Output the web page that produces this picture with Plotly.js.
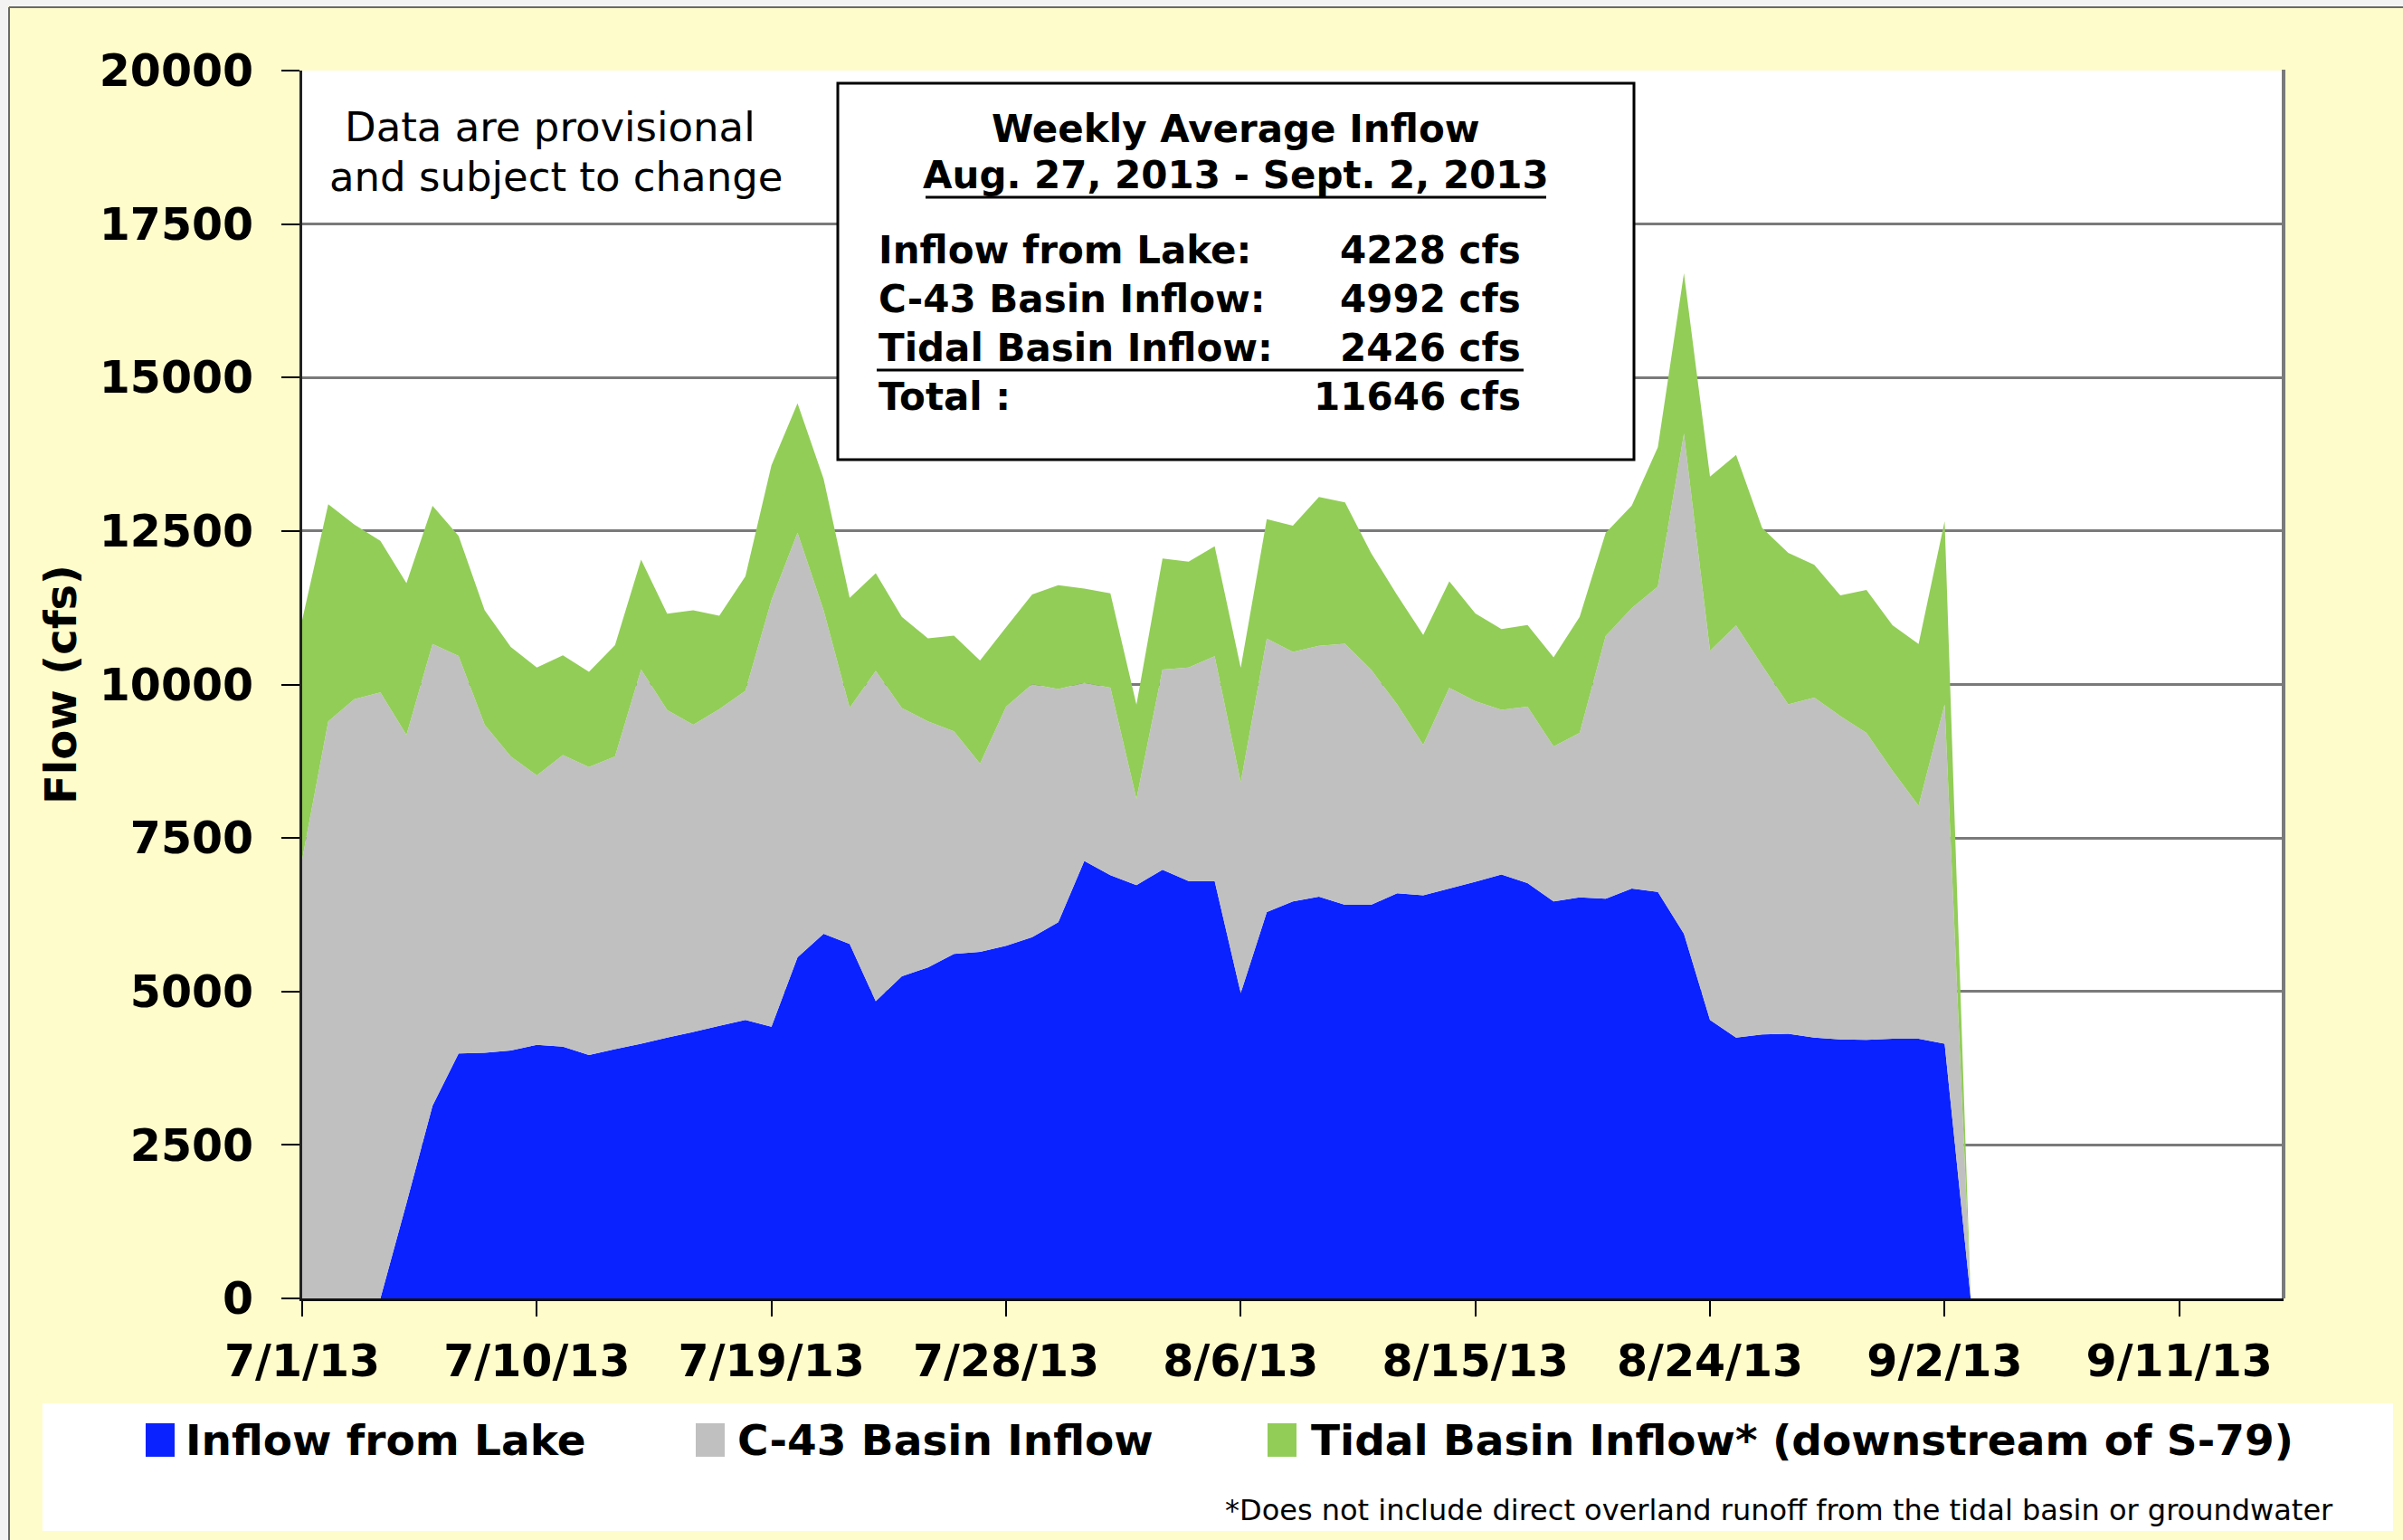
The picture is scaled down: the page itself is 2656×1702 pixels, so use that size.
<!DOCTYPE html>
<html>
<head>
<meta charset="utf-8">
<script src="https://cdn.plot.ly/plotly-3.0.1.min.js"></script>
<style>
html,body{margin:0;padding:0;background:#ffffff;}
#chart{width:2656px;height:1702px;}
</style>
</head>
<body>
<div id="chart"></div>
<script>
// ---------------- DATA ----------------
const dates = [
  '2013-07-01','2013-07-02','2013-07-03','2013-07-04','2013-07-05','2013-07-06','2013-07-07','2013-07-08',
  '2013-07-09','2013-07-10','2013-07-11','2013-07-12','2013-07-13','2013-07-14','2013-07-15','2013-07-16',
  '2013-07-17','2013-07-18','2013-07-19','2013-07-20','2013-07-21','2013-07-22','2013-07-23','2013-07-24',
  '2013-07-25','2013-07-26','2013-07-27','2013-07-28','2013-07-29','2013-07-30','2013-07-31',
  '2013-08-01','2013-08-02','2013-08-03','2013-08-04','2013-08-05','2013-08-06','2013-08-07','2013-08-08',
  '2013-08-09','2013-08-10','2013-08-11','2013-08-12','2013-08-13','2013-08-14','2013-08-15','2013-08-16',
  '2013-08-17','2013-08-18','2013-08-19','2013-08-20','2013-08-21','2013-08-22','2013-08-23','2013-08-24',
  '2013-08-25','2013-08-26','2013-08-27','2013-08-28','2013-08-29','2013-08-30','2013-08-31',
  '2013-09-01','2013-09-02','2013-09-03'
];

const inflowFromLake = [
  0, 0, 0, 0, 1550, 3140, 3990, 4000, 4040, 4130, 4100, 3965, 4060, 4150, 4250, 4340,
  4440, 4535, 4425, 5556, 5940, 5775, 4842, 5248, 5391, 5611, 5644, 5743, 5885, 6127, 7126,
  6895, 6731, 6983, 6797, 6797, 4974, 6292, 6467, 6544, 6412, 6412, 6599, 6566, 6676, 6786,
  6906, 6764, 6467, 6533, 6511, 6676, 6621, 5940, 4535, 4250, 4300, 4310, 4250, 4220, 4210,
  4230, 4230, 4150, 0
];

const c43BasinInflow = [
  7150, 9400, 9760, 9870, 7630, 7520, 6475, 5345, 4790, 4390, 4750, 4690, 4770, 6095, 5335, 5005,
  5160, 5360, 6950, 6915, 5270, 3845, 5380, 4370, 4010, 3625, 3065, 3895, 4120, 3800, 2900,
  3055, 1405, 3260, 3480, 3665, 3435, 4455, 4065, 4085, 4250, 3830, 3075, 2450, 3270, 2940,
  2680, 2875, 2525, 2680, 4280, 4570, 4975, 8145, 6015, 6710, 6010, 5365, 5535, 5265, 5000,
  4365, 3795, 5525, 0
];

const tidalBasinInflow = [
  3900, 3535, 2845, 2470, 2470, 2250, 1955, 1865, 1780, 1755, 1625, 1550, 1810, 1790, 1570, 1865,
  1520, 1865, 2195, 2110, 2140, 1790, 1590, 1485, 1350, 1560, 1680, 1295, 1460, 1690, 1535,
  1535, 1535, 1810, 1725, 1790, 1865, 1945, 2055, 2425, 2305, 1900, 1780, 1790, 1735, 1430,
  1315, 1330, 1450, 1890, 1680, 1670, 2270, 2615, 2835, 2780, 2240, 2470, 2165, 1965, 2330,
  2370, 2635, 2985, 0
];

const seriesNames = ['Inflow from Lake', 'C-43 Basin Inflow', 'Tidal Basin Inflow* (downstream of S-79)'];
const seriesColors = ['#0a22ff', '#c0c0c0', '#92cd58'];

const xTickVals = ['2013-07-01','2013-07-10','2013-07-19','2013-07-28','2013-08-06','2013-08-15','2013-08-24','2013-09-02','2013-09-11'];
const xTickText = ['7/1/13','7/10/13','7/19/13','7/28/13','8/6/13','8/15/13','8/24/13','9/2/13','9/11/13'];
const xRange = ['2013-07-01', '2013-09-15'];
const yRange = [0, 20000];
const yStep = 2500;

const boxTitle = 'Weekly Average Inflow';
const boxPeriod = 'Aug. 27, 2013 - Sept. 2, 2013';
const summaryLabels = ['Inflow from Lake:', 'C-43 Basin Inflow:', 'Tidal Basin Inflow:', 'Total :'];
const summaryValues = ['4228 cfs', '4992 cfs', '2426 cfs', '11646 cfs'];
const noteText = ['Data are provisional', 'and subject to change'];
const footnote = '*Does not include direct overland runoff from the tidal basin or groundwater';
const yTitle = 'Flow (cfs)';

// ---------------- LAYOUT HELPERS (pixel -> paper) ----------------
const W = 2656, H = 1702;
const L = 334, R = 2524, T = 78, B = 1435;
const px = x => (x - L) / (R - L);
const py = y => (B - y) / (B - T);
const FONT = 'DejaVu Sans, Liberation Sans, Arial, sans-serif';

// ---------------- TRACES ----------------
const seriesValues = [inflowFromLake, c43BasinInflow, tidalBasinInflow];
const traces = seriesValues.map((vals, i) => ({
  type: 'scatter',
  x: dates,
  y: vals,
  name: seriesNames[i],
  stackgroup: 'flow',
  mode: 'none',
  fillcolor: seriesColors[i],
  line: {width: 0, color: seriesColors[i]},
  hoverinfo: 'skip'
}));

// ---------------- SHAPES ----------------
const shapes = [];
function rectPx(x0, y0, x1, y1, fill, lineColor, lineWidth, layer) {
  shapes.push({type: 'rect', xref: 'paper', yref: 'paper',
    x0: px(x0), x1: px(x1), y0: py(y0), y1: py(y1),
    fillcolor: fill, line: {color: lineColor || 'rgba(0,0,0,0)', width: lineWidth || 0},
    layer: layer || 'above'});
}
function linePx(x0, y0, x1, y1, color, width, layer) {
  shapes.push({type: 'line', xref: 'paper', yref: 'paper',
    x0: px(x0), x1: px(x1), y0: py(y0), y1: py(y1),
    line: {color: color, width: width}, layer: layer || 'above'});
}
// outer frame of the yellow panel
rectPx(0, 0, W, 7, '#f3f3f3', null, 0, 'below');
rectPx(0, 0, 9, H, '#f3f3f3', null, 0, 'below');
linePx(10, 8, W, 8, '#6a6a6a', 2, 'below');
linePx(10, 8, 10, H, '#6a6a6a', 2, 'below');
// right border of plot area
linePx(R, T - 1, R, B, '#7a7a7a', 4, 'above');
// summary box
rectPx(926, 92, 1806, 508, '#ffffff', '#000000', 3, 'above');
linePx(1023, 218, 1709, 218, '#000000', 3, 'above');
linePx(969, 409, 1684, 409, '#000000', 3, 'above');
// legend panel
rectPx(47, 1551, 2645, 1692, '#ffffff', null, 0, 'above');
const legendSquareX = [161, 769, 1401];
const legendTextX = [203, 813, 1447];
seriesColors.forEach((c, i) => {
  rectPx(legendSquareX[i], 1573, legendSquareX[i] + 32, 1610, c, null, 0, 'above');
});

// ---------------- ANNOTATIONS ----------------
const annotations = [];
function textPx(x, y, text, size, opts) {
  opts = opts || {};
  annotations.push({xref: 'paper', yref: 'paper', x: px(x), y: py(y), text: text,
    showarrow: false, xanchor: opts.xanchor || 'center', yanchor: 'middle',
    align: opts.align || 'center',
    font: {family: FONT, size: size, color: '#000000', weight: opts.bold ? 'bold' : 'normal'}});
}
textPx(608, 140, noteText[0], 45);
textPx(614, 195, noteText[1], 45);
textPx(1366, 142, boxTitle, 42, {bold: true});
textPx(1366, 193, boxPeriod, 42, {bold: true});
const rowY = [276, 331, 385, 438];
summaryLabels.forEach((lab, i) => {
  textPx(969, rowY[i], lab, 42, {bold: true, xanchor: 'left', align: 'left'});
  textPx(1683, rowY[i], summaryValues[i], 42, {bold: true, xanchor: 'right', align: 'right'});
});
seriesNames.forEach((n, i) => {
  textPx(legendTextX[i], 1592, n, 47, {bold: true, xanchor: 'left', align: 'left'});
});
textPx(2581, 1669, footnote, 32, {xanchor: 'right', align: 'right'});

// ---------------- LAYOUT ----------------
const layout = {
  width: W, height: H,
  margin: {l: L, r: W - R, t: T, b: H - B, pad: 0},
  paper_bgcolor: '#fffccc',
  plot_bgcolor: '#ffffff',
  showlegend: false,
  hovermode: false,
  font: {family: FONT, color: '#000000'},
  xaxis: {
    type: 'date',
    range: xRange,
    tickmode: 'array',
    tickvals: xTickVals,
    ticktext: xTickText,
    ticks: 'outside', ticklen: 17, tickwidth: 2, tickcolor: '#000000',
    ticklabelstandoff: 7,
    tickfont: {family: FONT, size: 49, color: '#000000', weight: 'bold'},
    showgrid: false, zeroline: false,
    showline: true, linecolor: '#111111', linewidth: 3,
    fixedrange: true
  },
  yaxis: {
    range: yRange,
    tick0: 0, dtick: yStep,
    tickformat: 'd',
    ticks: 'outside', ticklen: 20, tickwidth: 2, tickcolor: '#000000',
    ticklabelstandoff: 21,
    tickfont: {family: FONT, size: 49, color: '#000000', weight: 'bold'},
    showgrid: true, gridcolor: '#7a7a7a', gridwidth: 3,
    zeroline: false,
    showline: true, linecolor: '#222222', linewidth: 3,
    title: {text: yTitle, font: {family: FONT, size: 48, color: '#000000', weight: 'bold'}, standoff: 10},
    fixedrange: true
  },
  shapes: shapes,
  annotations: annotations
};

Plotly.newPlot('chart', traces, layout, {displayModeBar: false, staticPlot: true});
</script>
</body>
</html>
